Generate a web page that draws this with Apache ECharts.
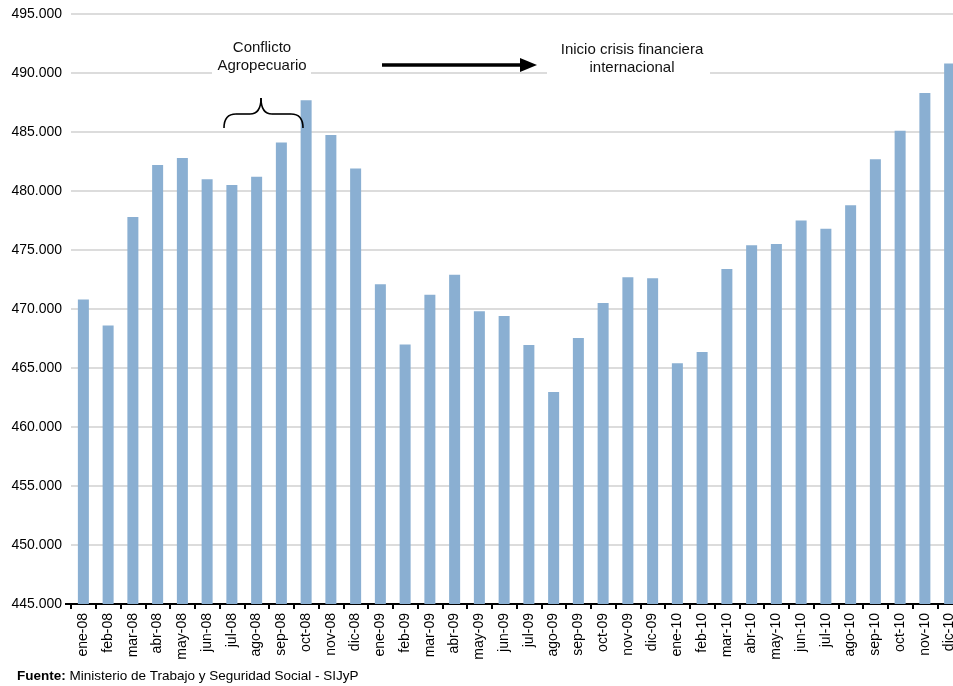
<!DOCTYPE html>
<html>
<head>
<meta charset="utf-8">
<script src="https://cdn.jsdelivr.net/npm/echarts@6/dist/echarts.min.js"></script>
<style>
  html, body { margin: 0; padding: 0; background: #fff; }
  #chart { width: 953px; height: 686px; }
</style>
</head>
<body>
<div id="chart"></div>
<script>
// Mensual, ene-08 a dic-10
const months = [
  'ene-08','feb-08','mar-08','abr-08','may-08','jun-08','jul-08','ago-08','sep-08','oct-08','nov-08','dic-08',
  'ene-09','feb-09','mar-09','abr-09','may-09','jun-09','jul-09','ago-09','sep-09','oct-09','nov-09','dic-09',
  'ene-10','feb-10','mar-10','abr-10','may-10','jun-10','jul-10','ago-10','sep-10','oct-10','nov-10','dic-10'
];

const values = [
  470800, 468600, 477800, 482200, 482800, 481000, 480500, 481200, 484100, 487700, 484750, 481900,
  472100, 467000, 471200, 472900, 469800, 469400, 466950, 462970, 467540, 470500, 472700, 472600,
  465400, 466350, 473400, 475400, 475500, 477500, 476800, 478800, 482700, 485100, 488300, 490800
];

const yMin = 445000;
const yMax = 495000;
const yStep = 5000;

const sourceLabel = 'Fuente:';
const sourceText = ' Ministerio de Trabajo y Seguridad Social - SIJyP';
const noteConflicto = 'Conflicto\nAgropecuario';
const noteCrisis = 'Inicio crisis financiera\ninternacional';

function withDots(v) {
  return String(v).replace(/\B(?=(\d{3})+(?!\d))/g, '.');
}

const FONT = '"Liberation Sans", Arial, sans-serif';
const chart = echarts.init(document.getElementById('chart'), null, { renderer: 'canvas' });

const ink = { stroke: '#000', lineWidth: 1.6, fill: null };

// curly brace pieces
function curve(x1, y1, cx, cy, x2, y2) {
  return { type: 'bezierCurve', z: 41, shape: { x1: x1, y1: y1, cpx1: cx, cpy1: cy, x2: x2, y2: y2 }, style: ink };
}
function seg(x1, y1, x2, y2, w) {
  return { type: 'line', z: 41, shape: { x1: x1, y1: y1, x2: x2, y2: y2 }, style: { stroke: '#000', lineWidth: w || 1.6 } };
}

chart.setOption({
  animation: false,
  backgroundColor: '#ffffff',
  textStyle: { fontFamily: FONT },
  grid: { left: 71, top: 14, width: 891, bottom: 82, containLabel: false, outerBoundsMode: 'none' },
  xAxis: {
    type: 'category',
    data: months,
    boundaryGap: true,
    axisLine: { lineStyle: { color: '#000', width: 2 } },
    axisTick: { show: true, length: 5, interval: 0, lineStyle: { color: '#000', width: 2 } },
    axisLabel: {
      interval: 0,
      rotate: 90,
      margin: 9,
      fontSize: 14,
      color: '#000',
      fontFamily: FONT
    }
  },
  yAxis: {
    type: 'value',
    min: yMin,
    max: yMax,
    interval: yStep,
    axisLine: { show: false },
    axisTick: { show: false },
    axisLabel: {
      margin: 9,
      fontSize: 14,
      color: '#000',
      fontFamily: FONT,
      formatter: withDots
    },
    splitLine: { show: true, lineStyle: { color: '#d0d0d0', width: 1.5 } }
  },
  series: [{
    type: 'bar',
    data: values,
    barWidth: 11,
    itemStyle: { color: '#8aafd2' },
    z: 2
  }],
  graphic: [
    // x-axis stub to the left of the first category
    seg(65, 604, 71, 604, 2),

    // Conflicto Agropecuario note
    { type: 'rect', shape: { x: 212, y: 38, width: 99, height: 38 }, style: { fill: '#fff' }, z: 40 },
    {
      type: 'text', x: 262, y: 39, z: 41,
      style: { text: noteConflicto, font: '15px ' + FONT, fill: '#111', align: 'center', verticalAlign: 'top', lineHeight: 18 }
    },
    // curly brace under it
    curve(224, 128, 224, 114, 236, 114),
    seg(236, 114, 250, 114),
    curve(250, 114, 261, 114, 261, 98),
    curve(261, 98, 261, 114, 272, 114),
    seg(272, 114, 291, 114),
    curve(291, 114, 303, 114, 303, 128),

    // arrow
    seg(382, 65, 524, 65, 3.5),
    { type: 'polygon', shape: { points: [[520, 58], [537, 65], [520, 72]] }, style: { fill: '#000' }, z: 41 },

    // Inicio crisis financiera note
    { type: 'rect', shape: { x: 547, y: 40, width: 163, height: 38 }, style: { fill: '#fff' }, z: 40 },
    {
      type: 'text', x: 632, y: 41, z: 41,
      style: { text: noteCrisis, font: '15px ' + FONT, fill: '#111', align: 'center', verticalAlign: 'top', lineHeight: 18 }
    },

    // source line
    {
      type: 'text', x: 17, y: 669, z: 41,
      style: {
        text: '{b|' + sourceLabel + '}{r|' + sourceText + '}',
        rich: {
          b: { font: 'bold 13.5px ' + FONT, fill: '#000' },
          r: { font: '13.5px ' + FONT, fill: '#000' }
        }
      }
    }
  ]
});
</script>
</body>
</html>
